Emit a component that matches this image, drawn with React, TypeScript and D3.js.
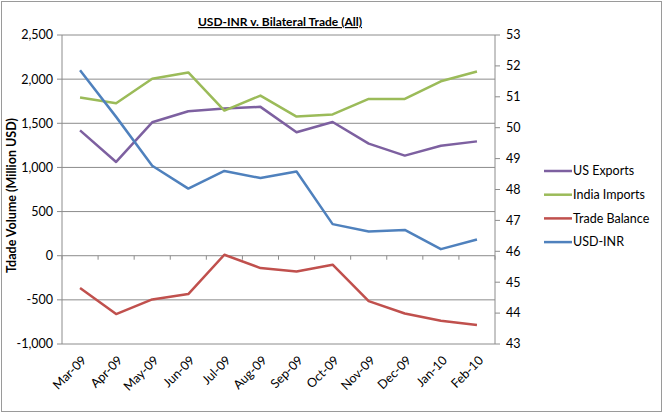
import React from "react";
import { scaleLinear, scaleBand, line } from "d3";

const months = ["Mar-09", "Apr-09", "May-09", "Jun-09", "Jul-09", "Aug-09", "Sep-09", "Oct-09", "Nov-09", "Dec-09", "Jan-10", "Feb-10"];
const usExports = [1420, 1062, 1511, 1636, 1667, 1686, 1398, 1515, 1270, 1134, 1245, 1295];
const indiaImports = [1791, 1727, 2005, 2076, 1644, 1814, 1576, 1600, 1776, 1776, 1976, 2086];
const tradeBalance = [-366, -661, -495, -434, 11, -140, -178, -102, -514, -654, -737, -786];
const usdInr = [51.86, 50.35, 48.77, 48.03, 48.6, 48.37, 48.58, 46.88, 46.64, 46.69, 46.07, 46.38];
const leftTicks = [2500, 2000, 1500, 1000, 500, 0, -500, -1000];
const rightTicks = [53, 52, 51, 50, 49, 48, 47, 46, 45, 44, 43];

const series = [
  { name: "US Exports", values: usExports, color: "#7D60A0", axis: "left" },
  { name: "India Imports", values: indiaImports, color: "#9BBB59", axis: "left" },
  { name: "Trade Balance", values: tradeBalance, color: "#C0504D", axis: "left" },
  { name: "USD-INR", values: usdInr, color: "#4F81BD", axis: "right" },
];

const W = 664;
const H = 414;
const plot = { left: 62, right: 495, top: 35, bottom: 344 };
const font = "Lato, 'Open Sans', sans-serif";
const grid = "#8C8C8C";

export default function App() {
  const x = scaleBand().domain(months).range([plot.left, plot.right]);
  const yL = scaleLinear().domain([-1000, 2500]).range([plot.bottom, plot.top]);
  const yR = scaleLinear().domain([43, 53]).range([plot.bottom, plot.top]);
  const cx = (m: string) => (x(m) as number) + x.bandwidth() / 2;
  const zeroY = yL(0);

  return (
    <svg width={W} height={H} style={{ position: "absolute", left: 0, top: 0, background: "#fff" }} fontFamily={font}>
      <rect x={1.5} y={1.5} width={W - 4} height={H - 4} fill="#fff" stroke="#9A9A9A" />

      {/* gridlines + left axis */}
      {leftTicks.map((t) => (
        <g key={t}>
          <line x1={plot.left} x2={plot.right} y1={yL(t)} y2={yL(t)} stroke={grid} strokeWidth={1} />
          <line x1={plot.left - 5} x2={plot.left} y1={yL(t)} y2={yL(t)} stroke={grid} />
          <text x={plot.left - 9} y={yL(t)} dy="0.35em" textAnchor="end" fontSize={12.5} fill="#000">
            {t === 0 ? "0" : t.toLocaleString("en-US")}
          </text>
        </g>
      ))}
      <line x1={plot.left} x2={plot.left} y1={plot.top} y2={plot.bottom} stroke={grid} />
      <line x1={plot.right} x2={plot.right} y1={plot.top} y2={plot.bottom} stroke={grid} />

      {rightTicks.map((t) => (
        <g key={t}>
          <line x1={plot.right} x2={plot.right + 5} y1={yR(t)} y2={yR(t)} stroke={grid} />
          <text x={plot.right + 11} y={yR(t)} dy="0.35em" fontSize={12.5} fill="#000">
            {t}
          </text>
        </g>
      ))}

      {/* category ticks sit on the zero line */}
      {months.map((m) => (
        <line key={m} x1={x(m)} x2={x(m)} y1={zeroY} y2={zeroY + 4} stroke={grid} />
      ))}
      <line x1={plot.right} x2={plot.right} y1={zeroY} y2={zeroY + 4} stroke={grid} />

      {months.map((m) => (
        <text
          key={m}
          transform={`translate(${cx(m) + 4},${plot.bottom + 14}) rotate(-45)`}
          textAnchor="end"
          dy="0.35em"
          fontSize={12.5}
          fill="#000"
        >
          {m}
        </text>
      ))}

      {series.map((s) => {
        const y = s.axis === "left" ? yL : yR;
        const path = line<number>()
          .x((_, i) => cx(months[i]))
          .y((d) => y(d))(s.values);
        return (
          <path key={s.name} d={path || ""} fill="none" stroke={s.color} strokeWidth={2.5} strokeLinejoin="round" />
        );
      })}

      <text x={280} y={26} textAnchor="middle" fontSize={12} fontWeight="bold" textDecoration="underline">
        USD-INR v. Bilateral Trade (All)
      </text>
      <text transform={`translate(12,${(plot.top + plot.bottom) / 2 + 6}) rotate(-90)`} textAnchor="middle" dy="0.35em" fontSize={12.5} fontWeight="bold">
        Tdade Volume (Million USD)
      </text>

      {series.map((s, i) => {
        const ly = 171 + i * 23.7;
        return (
          <g key={s.name}>
            <line x1={544} x2={572} y1={ly} y2={ly} stroke={s.color} strokeWidth={2.5} />
            <text x={573} y={ly} dy="0.35em" fontSize={12.5} fill="#000">
              {s.name}
            </text>
          </g>
        );
      })}
    </svg>
  );
}
